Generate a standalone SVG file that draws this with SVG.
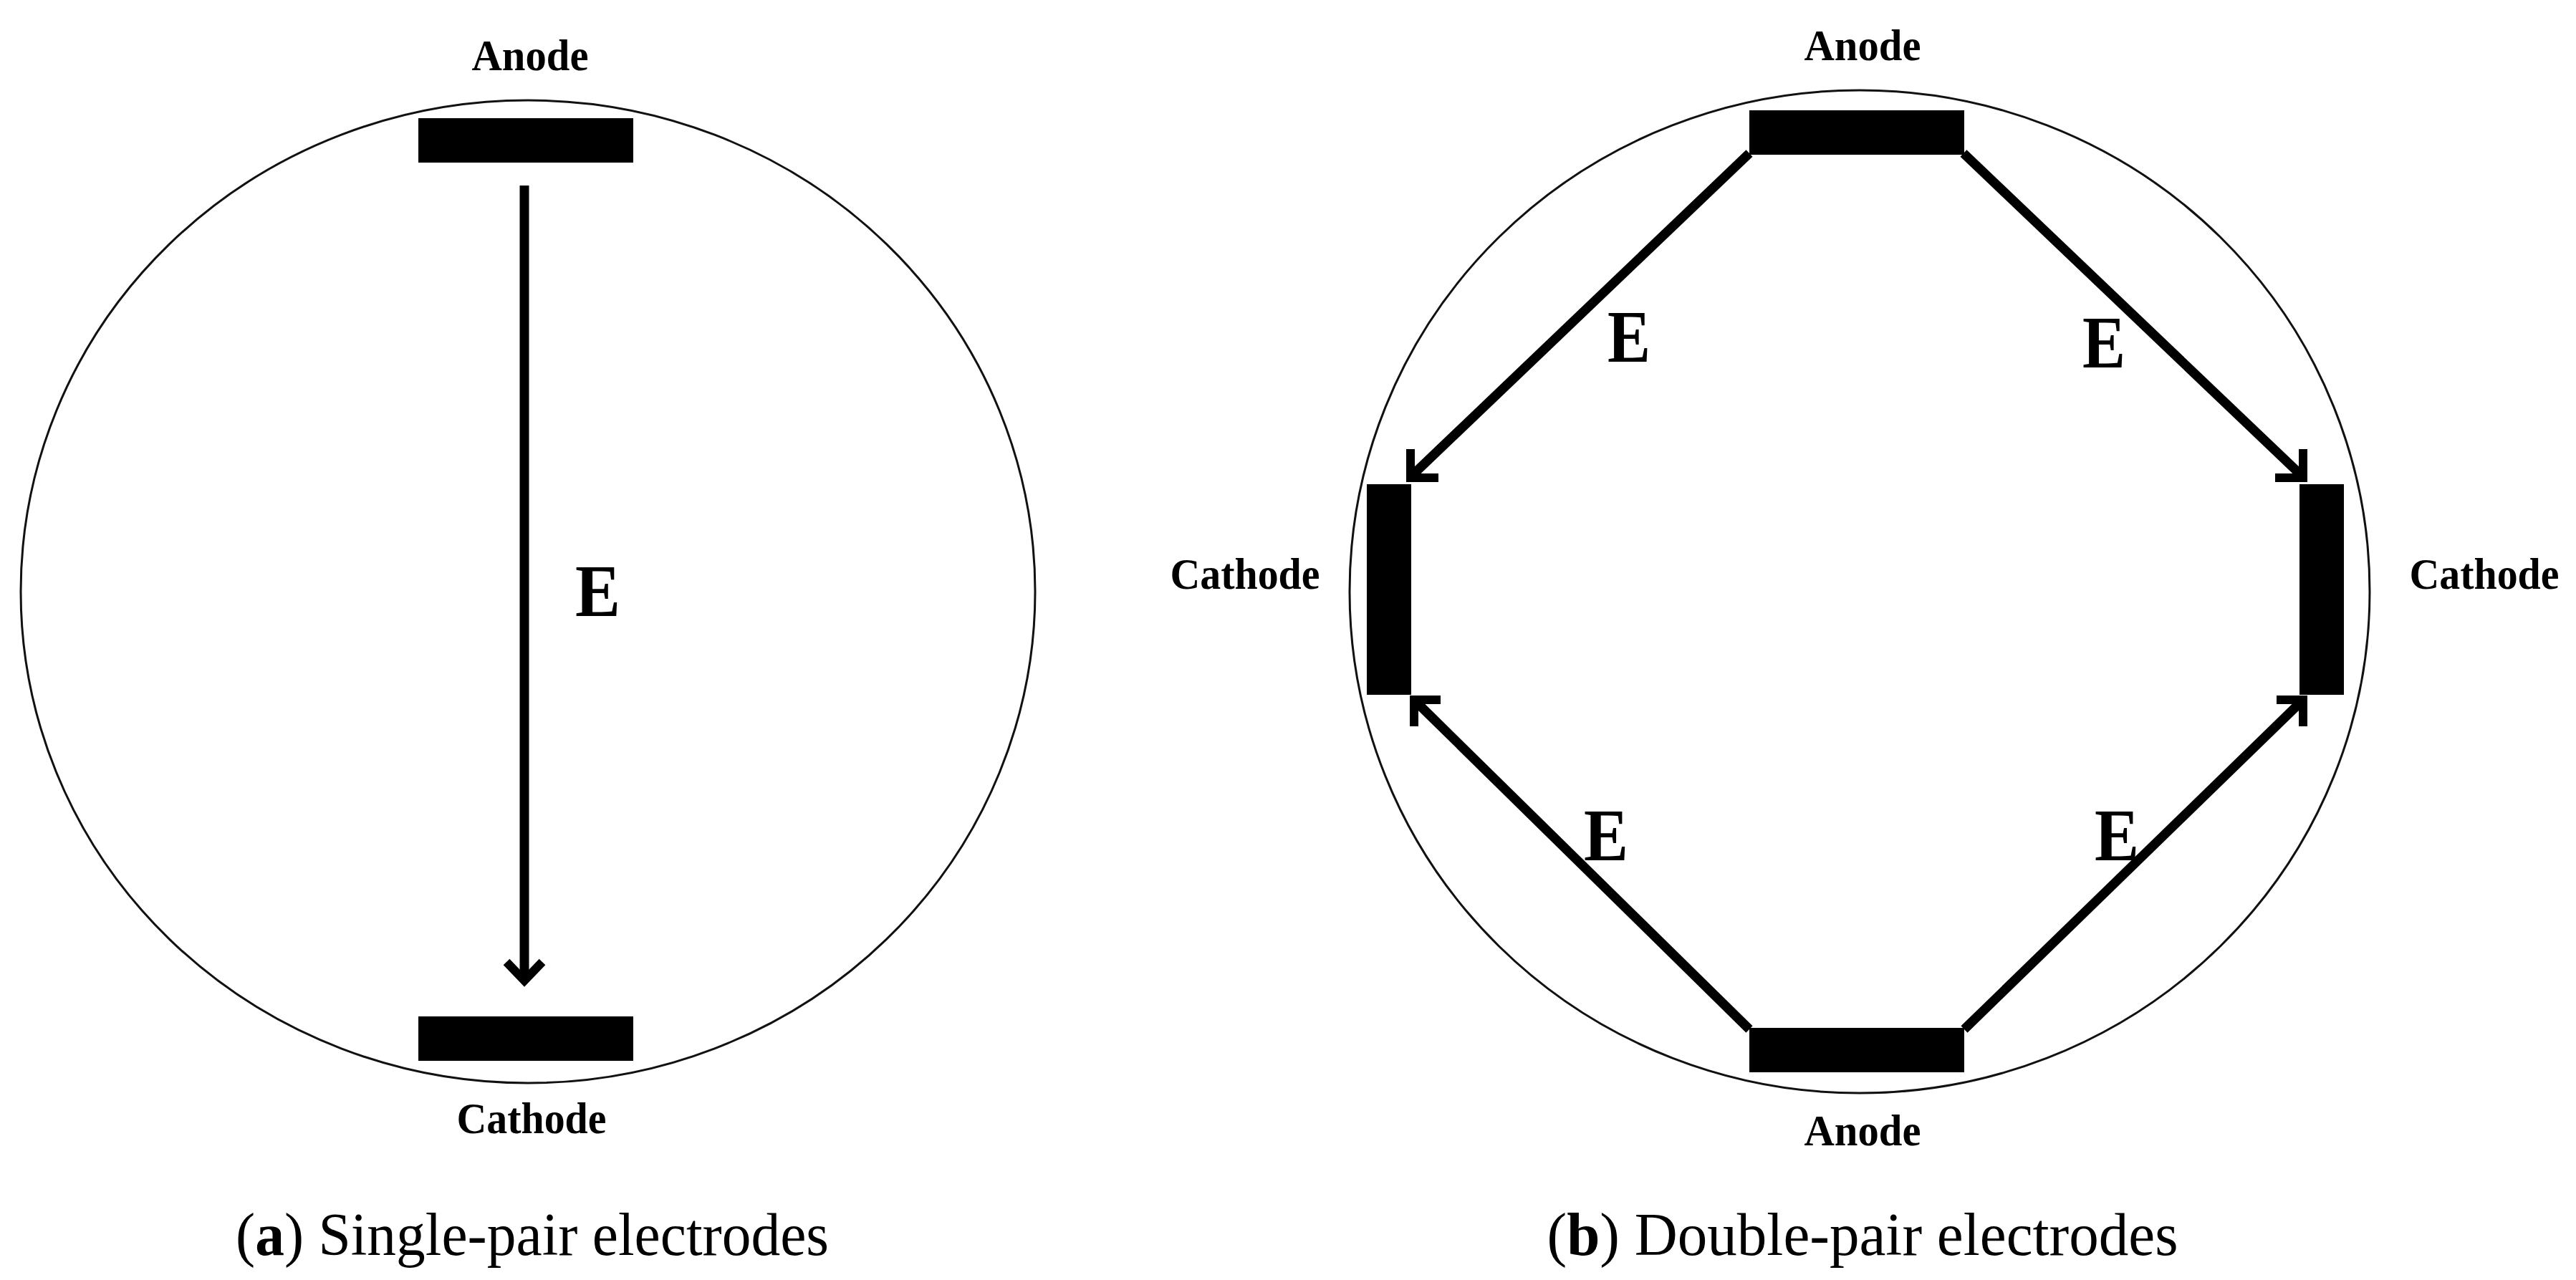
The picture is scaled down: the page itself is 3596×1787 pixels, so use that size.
<svg xmlns="http://www.w3.org/2000/svg" width="3596" height="1787" viewBox="0 0 3596 1787">
<style>
.ring{fill:none;stroke:#111;stroke-width:3}
.el{fill:#000}
.lbl{font-family:"Liberation Serif","Times New Roman",serif;font-weight:bold;font-size:62px;fill:#000;text-anchor:middle}
.e{font-family:"Liberation Serif","Times New Roman",serif;font-weight:bold;font-size:104px;fill:#000}
.cap{font-family:"Liberation Serif","Times New Roman",serif;font-size:84px;fill:#000;text-anchor:middle}
.ln{fill:none;stroke:#000;stroke-width:13;stroke-linecap:butt}
.hd{fill:none;stroke:#000;stroke-width:12;stroke-linejoin:miter;stroke-linecap:butt}
</style>
<rect width="3596" height="1787" fill="#fff"/>
<g id="panel-a">
  <ellipse id="vessel-a" class="ring" cx="737" cy="826" rx="708" ry="686"/>
  <g id="anode-a"><rect class="el" x="584" y="165" width="300" height="62"/><text class="lbl" x="740" y="98" textLength="163" lengthAdjust="spacingAndGlyphs">Anode</text></g>
  <g id="cathode-a"><rect class="el" x="584" y="1419" width="300" height="62"/><text class="lbl" x="742" y="1582" textLength="209" lengthAdjust="spacingAndGlyphs">Cathode</text></g>
  <text id="e-a" class="e" x="803" y="860" textLength="63" lengthAdjust="spacingAndGlyphs">E</text>
  <text id="cap-a" class="cap" x="743" y="1752" textLength="828" lengthAdjust="spacingAndGlyphs">(<tspan font-weight="bold">a</tspan>) Single-pair electrodes</text>
</g>
<g id="panel-b">
  <ellipse id="vessel-b" class="ring" cx="2596" cy="826" rx="712" ry="700"/>
  <g id="anode-b-top"><rect class="el" x="2442" y="154" width="300" height="62"/><text class="lbl" x="2600" y="84" textLength="163" lengthAdjust="spacingAndGlyphs">Anode</text></g>
  <g id="anode-b-bottom"><rect class="el" x="2442" y="1435" width="300" height="62"/><text class="lbl" x="2600" y="1599" textLength="163" lengthAdjust="spacingAndGlyphs">Anode</text></g>
  <g id="cathode-b-left"><rect class="el" x="1908" y="676" width="62" height="294"/><text class="lbl" x="1738" y="822" textLength="209" lengthAdjust="spacingAndGlyphs">Cathode</text></g>
  <g id="cathode-b-right"><rect class="el" x="3210" y="676" width="62" height="294"/><text class="lbl" x="3468" y="822" textLength="209" lengthAdjust="spacingAndGlyphs">Cathode</text></g>
  <text class="e" x="2244" y="505" textLength="60" lengthAdjust="spacingAndGlyphs">E</text>
  <text class="e" x="2907" y="513" textLength="60" lengthAdjust="spacingAndGlyphs">E</text>
  <text class="e" x="2211" y="1201" textLength="62" lengthAdjust="spacingAndGlyphs">E</text>
  <text class="e" x="2924" y="1201" textLength="62" lengthAdjust="spacingAndGlyphs">E</text>
  <text id="cap-b" class="cap" x="2600" y="1752" textLength="881" lengthAdjust="spacingAndGlyphs">(<tspan font-weight="bold">b</tspan>) Double-pair electrodes</text>
</g>
<g id="connectors">
  <line class="ln" x1="732" y1="259" x2="732" y2="1368" stroke-width="15"/>
  <polyline class="hd" points="707,1343 732,1369 757,1343" stroke-width="16"/>
  <line class="ln" x1="2442" y1="214" x2="1971" y2="664"/>
  <polyline class="hd" points="1969,627 1969,667 2008,667"/>
  <line class="ln" x1="2741" y1="214" x2="3213" y2="664"/>
  <polyline class="hd" points="3215,627 3215,667 3176,667"/>
  <line class="ln" x1="2442" y1="1437" x2="1976" y2="979"/>
  <polyline class="hd" points="1974,1014 1974,977 2011,977"/>
  <line class="ln" x1="2742" y1="1437" x2="3213" y2="979"/>
  <polyline class="hd" points="3215,1014 3215,977 3178,977"/>
</g>
</svg>
